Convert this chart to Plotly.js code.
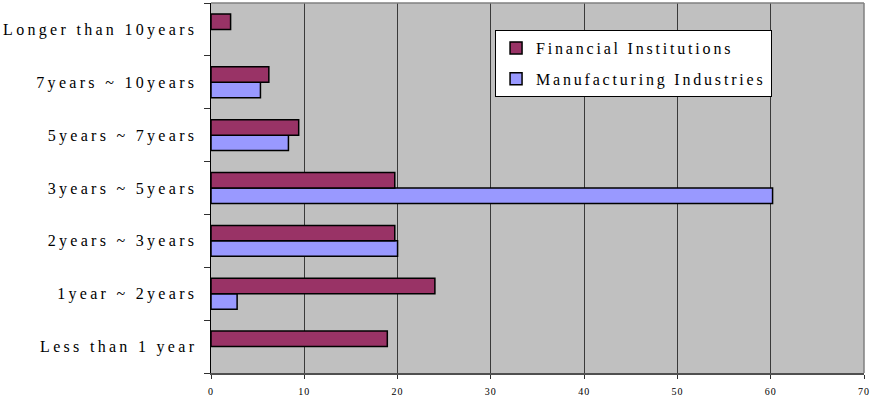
<!DOCTYPE html>
<html>
<head>
<meta charset="utf-8">
<script src="https://cdn.plot.ly/plotly-3.0.1.min.js"></script>
<style>
  html, body { margin: 0; padding: 0; background: #fff; }
  #chart { width: 871px; height: 398px; }
  .ytick text { letter-spacing: 3.3px; }
  .legendtext { letter-spacing: 2.8px; }
  .xtick text { letter-spacing: 1px; }
</style>
</head>
<body>
<div id="chart"></div>
<script>
const categories = ["Less than 1 year", "1year ~ 2years", "2years ~ 3years", "3years ~ 5years", "5years ~ 7years", "7years ~ 10years", "Longer than 10years"];
const financial = [18.9, 24.0, 19.7, 19.7, 9.4, 6.2, 2.1];
const manufacturing = [null, 2.8, 20.0, 60.2, 8.3, 5.3, null];
const seriesNames = ["Financial Institutions", "Manufacturing Industries"];
const xTicks = [0, 10, 20, 30, 40, 50, 60, 70];

const serif = "'Liberation Serif', 'Times New Roman', serif";

const traces = [
  {
    type: "bar", orientation: "h", name: seriesNames[1], legendgroup: "b", legendrank: 2,
    y: categories, x: manufacturing,
    marker: { color: "#9999FF", line: { color: "#000", width: 1.5 } },
    hoverinfo: "x+y"
  },
  {
    type: "bar", orientation: "h", name: seriesNames[0], legendgroup: "a", legendrank: 1,
    y: categories, x: financial,
    marker: { color: "#993366", line: { color: "#000", width: 1.5 } },
    hoverinfo: "x+y"
  }
];

const layout = {
  width: 871, height: 398,
  margin: { l: 211, r: 7, t: 3, b: 25, pad: 0 },
  paper_bgcolor: "#ffffff",
  plot_bgcolor: "#C0C0C0",
  barmode: "group",
  bargap: 0.415,
  bargroupgap: 0,
  font: { family: serif, color: "#000" },
  showlegend: true,
  legend: {
    x: 0.435, y: 0.927, xanchor: "left", yanchor: "top",
    bgcolor: "#ffffff", bordercolor: "#000", borderwidth: 1,
    traceorder: "grouped", tracegroupgap: 7,
    font: { family: serif, size: 16, color: "#000" }
  },
  xaxis: {
    range: [0, 70], tickvals: xTicks, ticktext: xTicks.map(String),
    showgrid: true, gridcolor: "#3a3a3a", gridwidth: 1,
    zeroline: false,
    showline: true, linecolor: "#505050", linewidth: 2,
    ticks: "outside", ticklen: 4, tickcolor: "#303030",
    ticklabelstandoff: 4,
    tickfont: { family: serif, size: 10, color: "#000" },
    fixedrange: true
  },
  yaxis: {
    type: "category", categoryorder: "array", categoryarray: categories,
    showgrid: false, zeroline: false,
    showline: true, linecolor: "#000", linewidth: 1.5,
    ticks: "outside", ticklen: 6, tickcolor: "#303030", tickson: "boundaries",
    ticklabelstandoff: 9,
    tickfont: { family: serif, size: 16, color: "#000" },
    fixedrange: true
  },
  shapes: [
    { type: "line", xref: "paper", yref: "paper", x0: 0, x1: 1, y0: 1, y1: 1, line: { color: "#808080", width: 1.5 }, layer: "above" },
    { type: "line", xref: "paper", yref: "paper", x0: 1, x1: 1, y0: 0, y1: 1, line: { color: "#808080", width: 1.5 }, layer: "above" }
  ]
};

Plotly.newPlot("chart", traces, layout, { displayModeBar: false, staticPlot: true });
</script>
</body>
</html>
